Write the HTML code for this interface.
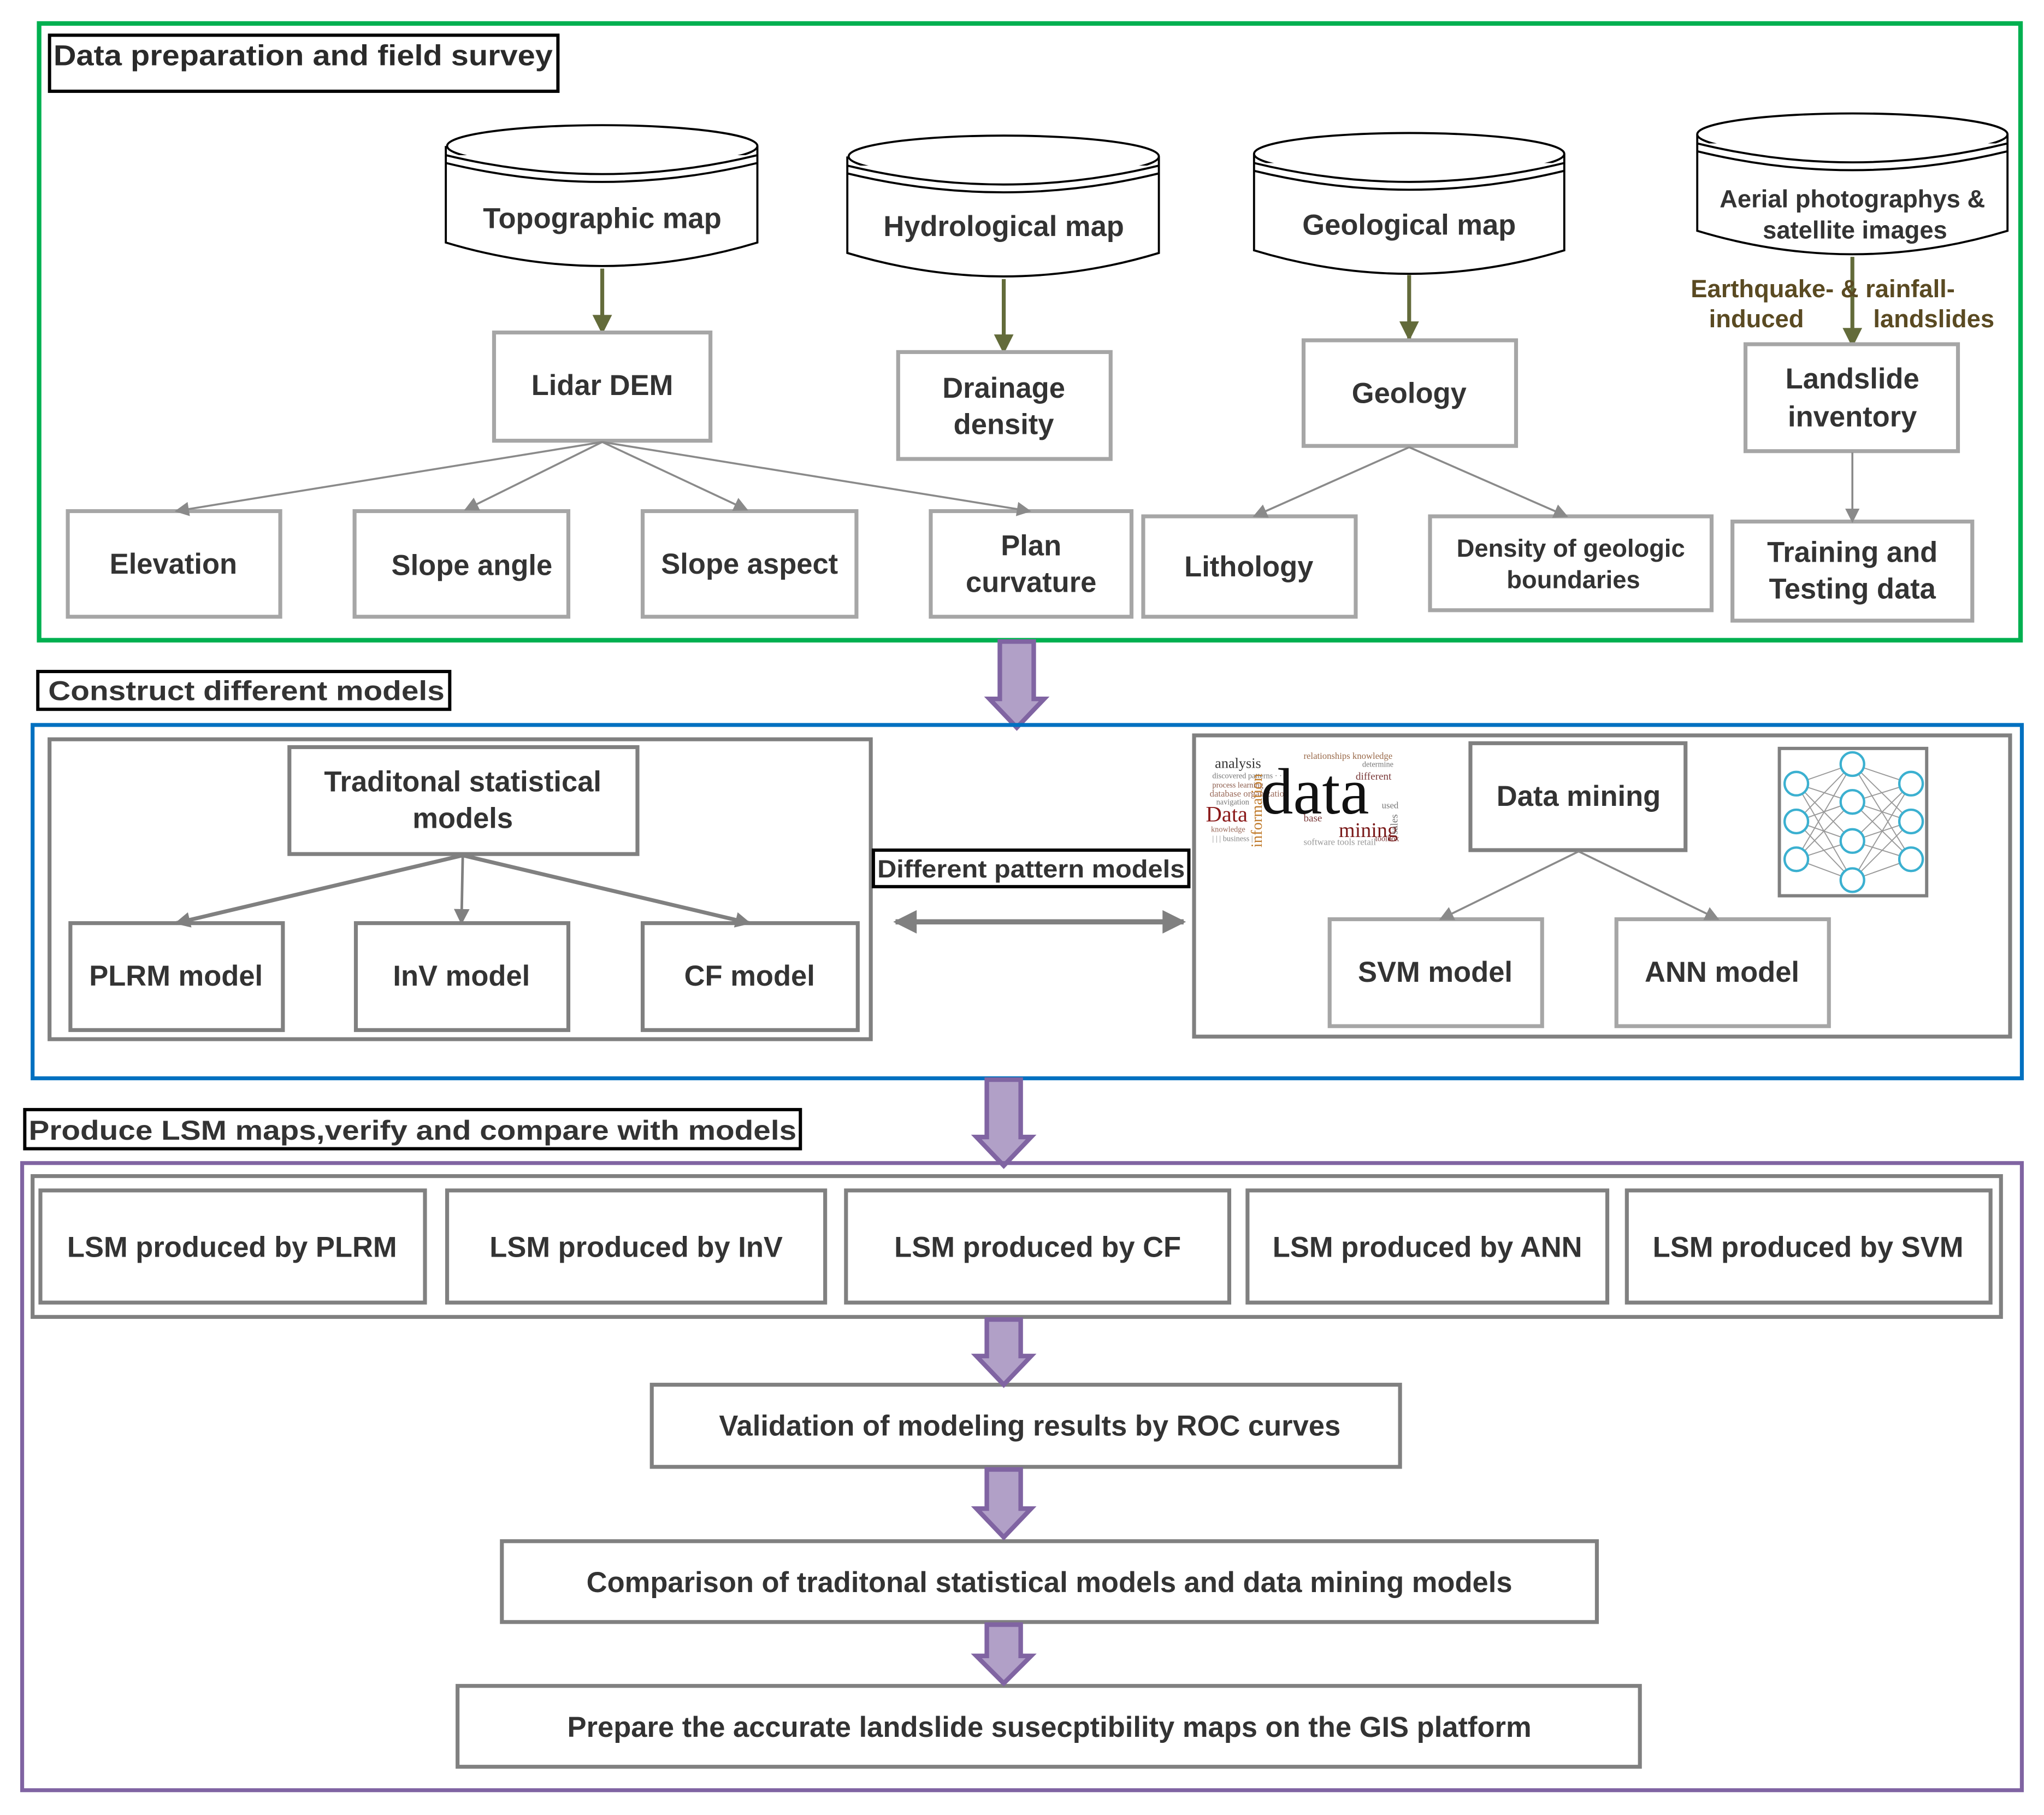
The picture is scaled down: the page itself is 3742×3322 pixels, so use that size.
<!DOCTYPE html>
<html><head><meta charset="utf-8"><style>
html,body{margin:0;padding:0;background:#fff}
svg{display:block}
text{font-family:"Liberation Sans",Arial,sans-serif;font-weight:bold;fill:#333}
.s{font-family:"Liberation Serif",serif;font-weight:normal}
</style></head><body>
<svg width="3742" height="3322" viewBox="0 0 1568 1392" xmlns="http://www.w3.org/2000/svg">
<defs>
<marker id="ao" viewBox="0 0 10 10" refX="9" refY="5" markerWidth="18" markerHeight="15" orient="auto" markerUnits="userSpaceOnUse"><path d="M0,0 L10,5 L0,10z" fill="#636b3a"/></marker>
<marker id="ag" viewBox="0 0 10 10" refX="9" refY="5" markerWidth="13" markerHeight="11" orient="auto" markerUnits="userSpaceOnUse"><path d="M0,0 L10,5 L0,10z" fill="#8a8a8a"/></marker>
<marker id="ag2" viewBox="0 0 10 10" refX="9" refY="5" markerWidth="14" markerHeight="12" orient="auto" markerUnits="userSpaceOnUse"><path d="M0,0 L10,5 L0,10z" fill="#808080"/></marker>
<marker id="ad" viewBox="0 0 10 10" refX="9" refY="5" markerWidth="22" markerHeight="18" orient="auto-start-reverse" markerUnits="userSpaceOnUse"><path d="M0,0 L10,5 L0,10z" fill="#808080"/></marker>
<g id="parrow"><path d="M-13,0 L13,0 L13,44 L21,44 L0,66 L-21,44 L-13,44 Z" fill="#b1a0c7" stroke="#8064a2" stroke-width="3.5"/></g>
</defs>

<!-- Section 1 -->
<rect x="30" y="18" width="1520" height="473" fill="none" stroke="#00b050" stroke-width="3.5"/>
<rect x="38" y="27" width="390" height="43" fill="#fff" stroke="#000" stroke-width="2.5"/>
<text x="41" y="50" font-size="22" style="fill:#2a2a2a" textLength="383" lengthAdjust="spacingAndGlyphs">Data preparation and  field survey</text>

<!-- cylinders -->
<g fill="#fff" stroke="#000" stroke-width="1.6">
<path d="M342,112 L342,186 Q462,222 581,186 L581,112"/>
<ellipse cx="462" cy="112" rx="119" ry="16"/>
<path d="M342,119 Q462,148 581,119"/><path d="M342,125 Q462,154 581,125" fill="none"/>

<path d="M650,120 L650,194 Q770,230 889,194 L889,120"/>
<ellipse cx="770" cy="120" rx="119" ry="16"/>
<path d="M650,127 Q770,156 889,127"/><path d="M650,133 Q770,162 889,133" fill="none"/>

<path d="M962,118 L962,192 Q1081,228 1200,192 L1200,118"/>
<ellipse cx="1081" cy="118" rx="119" ry="16"/>
<path d="M962,125 Q1081,154 1200,125"/><path d="M962,131 Q1081,160 1200,131" fill="none"/>

<path d="M1302,103 L1302,177 Q1421,213 1540,177 L1540,103"/>
<ellipse cx="1421" cy="103" rx="119" ry="16"/>
<path d="M1302,110 Q1421,139 1540,110"/><path d="M1302,116 Q1421,145 1540,116" fill="none"/>
</g>
<text x="462" y="175" font-size="22" text-anchor="middle">Topographic map</text>
<text x="770" y="181" font-size="22" text-anchor="middle">Hydrological map</text>
<text x="1081" y="180" font-size="22" text-anchor="middle">Geological  map</text>
<text x="1421" y="159" font-size="19" text-anchor="middle">Aerial photographys &amp;</text>
<text x="1423" y="183" font-size="19" text-anchor="middle">satellite images</text>

<g stroke="#636b3a" stroke-width="3" marker-end="url(#ao)">
<line x1="462" y1="206" x2="462" y2="255"/>
<line x1="770" y1="214" x2="770" y2="270"/>
<line x1="1081" y1="211" x2="1081" y2="260"/>
<line x1="1421" y1="197" x2="1421" y2="265"/>
</g>
<g font-size="19">
<text x="1297" y="228" style="fill:#5a4a22">Earthquake-  &amp; rainfall-</text>
<text x="1311" y="251" style="fill:#5a4a22">induced</text>
<text x="1437" y="251" style="fill:#5a4a22">landslides</text>
</g>

<!-- gray boxes section1 -->
<g fill="#fff" stroke="#a6a6a6" stroke-width="3">
<rect x="379" y="255" width="166" height="83"/>
<rect x="689" y="270" width="163" height="82"/>
<rect x="1000" y="261" width="163" height="81"/>
<rect x="1339" y="264" width="163" height="82"/>
<rect x="52" y="392" width="163" height="81"/>
<rect x="272" y="392" width="164" height="81"/>
<rect x="493" y="392" width="164" height="81"/>
<rect x="714" y="392" width="154" height="81"/>
<rect x="877" y="396" width="163" height="77"/>
<rect x="1097" y="396" width="216" height="72"/>
<rect x="1329" y="400" width="184" height="76"/>
</g>
<g font-size="22" text-anchor="middle">
<text x="462" y="303">Lidar DEM</text>
<text x="770" y="305">Drainage</text><text x="770" y="333">density</text>
<text x="1081" y="309">Geology</text>
<text x="1421" y="298">Landslide</text><text x="1421" y="327">inventory</text>
<text x="133" y="440">Elevation</text>
<text x="362" y="441">Slope angle</text>
<text x="575" y="440">Slope aspect</text>
<text x="791" y="426">Plan</text><text x="791" y="454">curvature</text>
<text x="958" y="442">Lithology</text>
<text x="1205" y="427" font-size="19">Density of geologic</text><text x="1207" y="451" font-size="19">boundaries</text>
<text x="1421" y="431">Training and</text><text x="1421" y="459">Testing data</text>
</g>
<g stroke="#8a8a8a" stroke-width="1.5" marker-end="url(#ag)">
<line x1="462" y1="339" x2="135" y2="392"/>
<line x1="462" y1="339" x2="357" y2="391"/>
<line x1="462" y1="339" x2="573" y2="391"/>
<line x1="462" y1="339" x2="790" y2="392"/>
<line x1="1081" y1="343" x2="962" y2="396"/>
<line x1="1081" y1="343" x2="1202" y2="396"/>
<line x1="1421" y1="347" x2="1421" y2="400"/>
</g>

<use href="#parrow" x="780" y="492"/>

<!-- Section 2 -->
<rect x="29" y="515" width="316" height="29" fill="#fff" stroke="#000" stroke-width="2.5"/>
<text x="37" y="537" font-size="21" textLength="304" lengthAdjust="spacingAndGlyphs">Construct different models</text>
<rect x="25" y="556" width="1526" height="271" fill="none" stroke="#0070c0" stroke-width="3"/>
<g fill="#fff" stroke="#808080" stroke-width="3">
<rect x="38" y="567" width="630" height="230"/>
<rect x="916" y="564" width="626" height="231"/>
<rect x="222" y="573" width="267" height="82"/>
<rect x="54" y="708" width="163" height="82"/>
<rect x="273" y="708" width="163" height="82"/>
<rect x="493" y="708" width="165" height="82"/>
<rect x="1128" y="570" width="165" height="82"/>
<rect x="1365" y="574" width="113" height="113" stroke-width="2.5"/>
</g>
<g fill="#fff" stroke="#a6a6a6" stroke-width="3">
<rect x="1020" y="705" width="163" height="82"/>
<rect x="1240" y="705" width="163" height="82"/>
</g>
<g font-size="22" text-anchor="middle">
<text x="355" y="607">Traditonal statistical</text><text x="355" y="635">models</text>
<text x="135" y="756">PLRM model</text>
<text x="354" y="756">InV model</text>
<text x="575" y="756">CF model</text>
<text x="1211" y="618">Data mining</text>
<text x="1101" y="753">SVM model</text>
<text x="1321" y="753">ANN model</text>
</g>
<g stroke="#808080" stroke-width="3" marker-end="url(#ag2)">
<line x1="355" y1="656" x2="135" y2="708"/>
<line x1="355" y1="656" x2="354" y2="708" stroke-width="2"/>
<line x1="355" y1="656" x2="575" y2="708"/>
</g>
<g stroke="#8a8a8a" stroke-width="1.5" marker-end="url(#ag)">
<line x1="1211" y1="653" x2="1105" y2="705"/>
<line x1="1211" y1="653" x2="1318" y2="705"/>
</g>
<rect x="670" y="652" width="242" height="28" fill="#fff" stroke="#000" stroke-width="2.5"/>
<text x="673" y="673" font-size="19" textLength="236" lengthAdjust="spacingAndGlyphs">Different pattern models</text>
<line x1="687" y1="707" x2="908" y2="707" stroke="#808080" stroke-width="4" marker-start="url(#ad)" marker-end="url(#ad)"/>

<!-- word cloud -->
<g>
<text class="s" x="932" y="589" font-size="11" style="fill:#333">analysis</text>
<text class="s" x="930" y="597" font-size="6" style="fill:#777">discovered  patterns  · · ·</text>
<text class="s" x="930" y="604" font-size="6" style="fill:#8a5a4a">process   learning</text>
<text class="s" x="928" y="611" font-size="7" style="fill:#9a6a5a">database  organization</text>
<text class="s" x="933" y="617" font-size="6" style="fill:#777">navigation</text>
<text class="s" x="925" y="630" font-size="17" style="fill:#8b1a1a">Data</text>
<text class="s" x="929" y="638" font-size="6" style="fill:#9a6a5a">knowledge</text>
<text class="s" x="930" y="645" font-size="6" style="fill:#888">| | | business  |</text>
<text class="s" x="967" y="624" font-size="50" style="fill:#111">data</text>
<text class="s" x="1027" y="642" font-size="16" style="fill:#7a1a1a">mining</text>
<text class="s" x="1040" y="598" font-size="8" style="fill:#7a3a3a">different</text>
<text class="s" x="1000" y="582" font-size="7" style="fill:#9a6a4a">relationships knowledge</text>
<text class="s" x="1045" y="588" font-size="6" style="fill:#777">determine</text>
<text class="s" x="1060" y="620" font-size="7" style="fill:#777">used</text>
<text class="s" x="1055" y="645" font-size="6" style="fill:#7a3a3a">toolbox</text>
<text class="s" x="968" y="650" font-size="12" transform="rotate(-90 968 650)" style="fill:#c07a2a">information</text>
<text class="s" x="1000" y="630" font-size="8" style="fill:#7a3a3a">base</text>
<text class="s" x="1000" y="648" font-size="7" style="fill:#999">software  tools  retail</text>
<text class="s" x="1072" y="640" font-size="8" transform="rotate(-90 1072 640)" style="fill:#777">sales</text>
</g>
<!-- neural net -->
<g stroke="#999" stroke-width="0.8">
<path d="M1378,601L1421,586M1378,601L1421,615M1378,601L1421,645M1378,601L1421,675M1378,630L1421,586M1378,630L1421,615M1378,630L1421,645M1378,630L1421,675M1378,659L1421,586M1378,659L1421,615M1378,659L1421,645M1378,659L1421,675M1466,601L1421,586M1466,601L1421,615M1466,601L1421,645M1466,601L1421,675M1466,630L1421,586M1466,630L1421,615M1466,630L1421,645M1466,630L1421,675M1466,659L1421,586M1466,659L1421,615M1466,659L1421,645M1466,659L1421,675"/>
</g>
<g fill="#fff" stroke="#3bb0d0" stroke-width="1.8">
<circle cx="1378" cy="601" r="9"/><circle cx="1378" cy="630" r="9"/><circle cx="1378" cy="659" r="9"/>
<circle cx="1421" cy="586" r="9"/><circle cx="1421" cy="615" r="9"/><circle cx="1421" cy="645" r="9"/><circle cx="1421" cy="675" r="9"/>
<circle cx="1466" cy="601" r="9"/><circle cx="1466" cy="630" r="9"/><circle cx="1466" cy="659" r="9"/>
</g>

<use href="#parrow" x="770" y="828"/>

<!-- Section 3 -->
<rect x="19" y="851" width="595" height="30" fill="#fff" stroke="#000" stroke-width="2.5"/>
<text x="22" y="874" font-size="21" textLength="589" lengthAdjust="spacingAndGlyphs">Produce LSM maps,verify and compare with models</text>
<rect x="17" y="892" width="1534" height="481" fill="none" stroke="#8064a2" stroke-width="3"/>
<g fill="#fff" stroke="#808080" stroke-width="3">
<rect x="25" y="902" width="1510" height="108"/>
<rect x="31" y="913" width="295" height="86"/>
<rect x="343" y="913" width="290" height="86"/>
<rect x="649" y="913" width="294" height="86"/>
<rect x="957" y="913" width="276" height="86"/>
<rect x="1248" y="913" width="279" height="86"/>
<rect x="500" y="1062" width="574" height="63"/>
<rect x="385" y="1182" width="840" height="62"/>
<rect x="351" y="1293" width="907" height="62"/>
</g>
<g font-size="22" text-anchor="middle">
<text x="178" y="964">LSM produced by PLRM</text>
<text x="488" y="964">LSM produced by InV</text>
<text x="796" y="964">LSM produced by CF</text>
<text x="1095" y="964">LSM produced by ANN</text>
<text x="1387" y="964">LSM produced by SVM</text>
<text x="790" y="1101">Validation of modeling results by ROC curves</text>
<text x="805" y="1221">Comparison of traditonal statistical models and data mining models</text>
<text x="805" y="1332">Prepare the accurate landslide susecptibility maps on the GIS platform</text>
</g>
<path d="M757,1012 L783,1012 L783,1040 L791,1040 L770,1062 L749,1040 L757,1040 Z" fill="#b1a0c7" stroke="#8064a2" stroke-width="3.5"/>
<path d="M757,1127 L783,1127 L783,1157 L791,1157 L770,1179 L749,1157 L757,1157 Z" fill="#b1a0c7" stroke="#8064a2" stroke-width="3.5"/>
<path d="M757,1246 L783,1246 L783,1270 L791,1270 L770,1291 L749,1270 L757,1270 Z" fill="#b1a0c7" stroke="#8064a2" stroke-width="3.5"/>
</svg>
</body></html>
